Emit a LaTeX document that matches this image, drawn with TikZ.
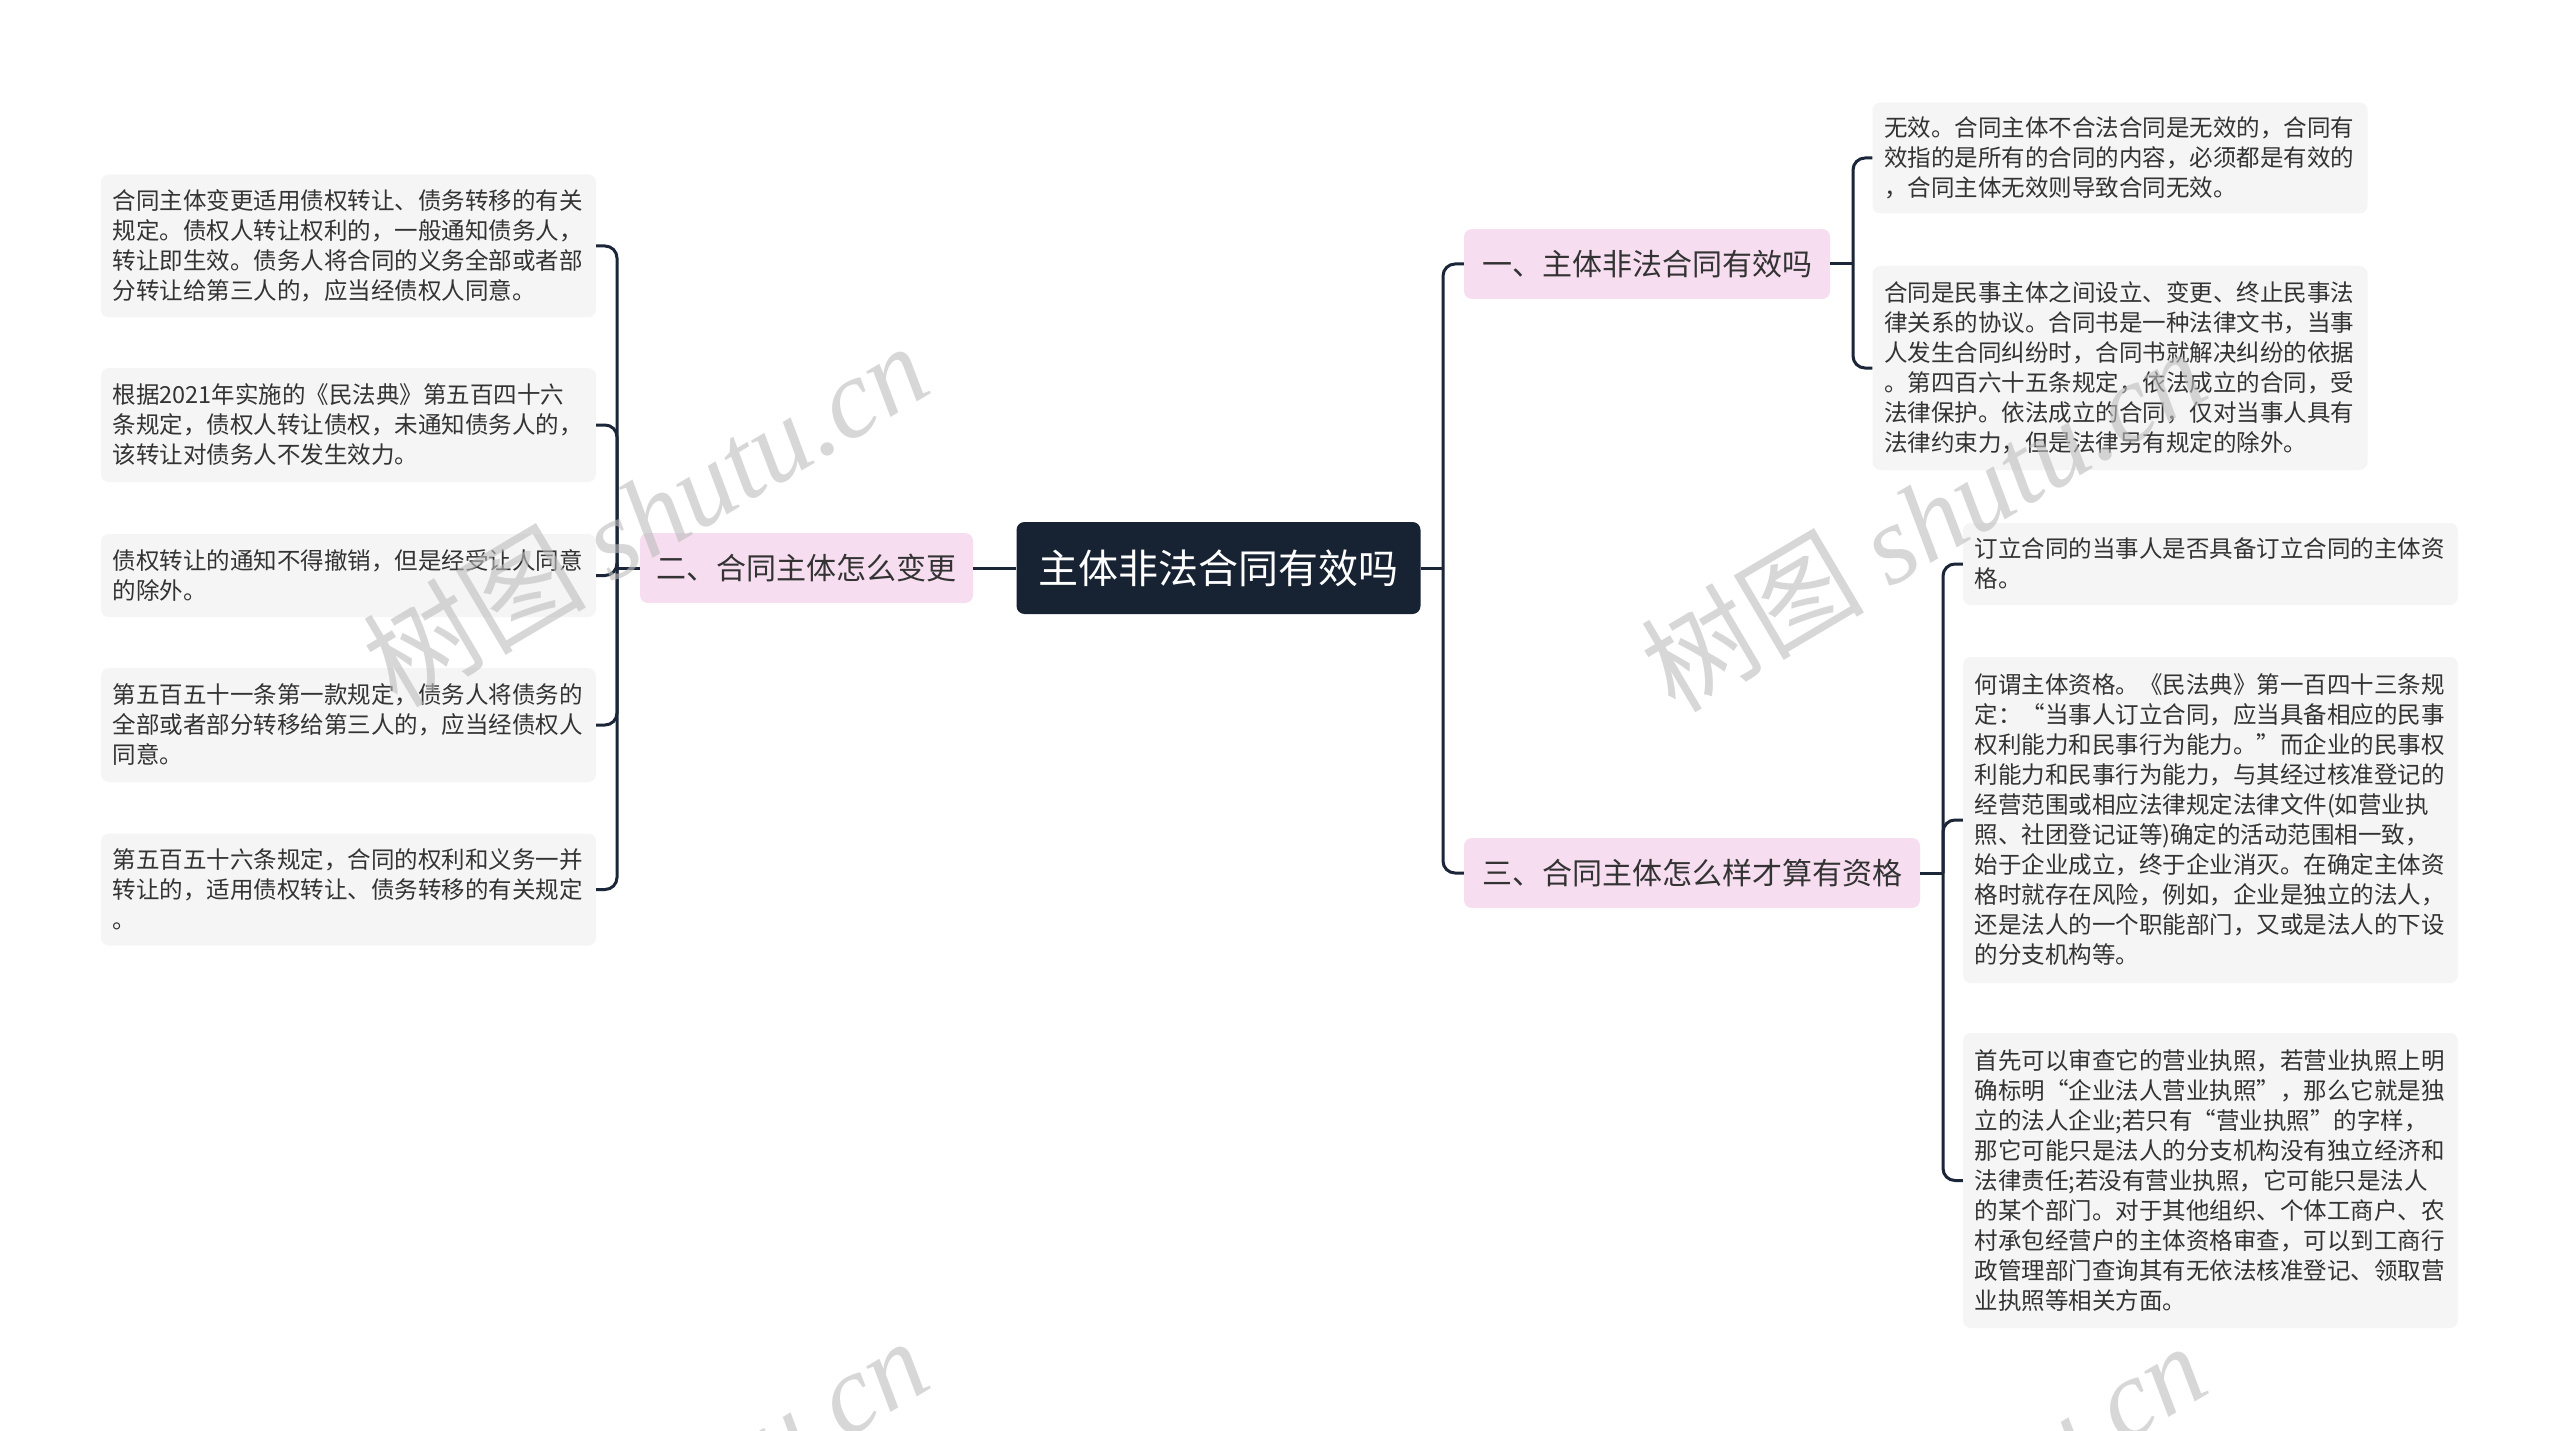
\documentclass[tikz,border=0pt]{standalone}
\usepackage{fontspec}
\setmainfont{Noto Sans CJK SC}
\newfontfamily\wmserif{Liberation Serif}
\definecolor{rootc}{HTML}{172233}
\definecolor{linec}{HTML}{1B2638}
\definecolor{pinkc}{HTML}{F6DEF0}
\definecolor{leafc}{HTML}{F5F5F5}
\definecolor{txtc}{HTML}{333333}
\definecolor{wmc}{HTML}{BDBDBD}
\begin{document}
\begin{tikzpicture}[x=1pt,y=-1pt,
  conn/.style={draw=linec, line width=3pt, rounded corners=12pt},
  rootbox/.style={fill=rootc, rounded corners=8pt, text=white, font=\fontsize{40}{48}\selectfont, minimum width=404pt, minimum height=92pt, inner sep=0pt},
  branchbox/.style={fill=pinkc, rounded corners=8pt, text=txtc, font=\fontsize{30}{36}\selectfont, minimum height=70pt, inner sep=0pt},
  leafbox/.style={fill=leafc, rounded corners=8pt, text=txtc, font=\fontsize{23.5}{30}\selectfont, align=left, text width=472pt, inner xsep=11.5pt, inner ysep=0pt},
  wm/.style={text=wmc, opacity=0.6, rotate=30.6, font=\fontsize{112}{120}\selectfont, inner sep=0pt}]
\useasboundingbox (0,0) rectangle (2560,1431);
\clip (0,0) rectangle (2560,1431);
\fill[white] (0,0) rectangle (2560,1431);

% root and branches
\node[rootbox] (root) at (1218.5,568) {主体非法合同有效吗};
\node[branchbox, minimum width=333pt] (b2) at (806.5,568) {二、合同主体怎么变更};
\node[branchbox, minimum width=366pt] (b1) at (1647,264) {一、主体非法合同有效吗};
\node[branchbox, minimum width=456pt] (b3) at (1692,873) {三、合同主体怎么样才算有资格};

% left leaves
\node[leafbox, minimum height=143pt] (L1) at (348.5,246) {合同主体变更适用债权转让、债务转移的有关\\规定。债权人转让权利的，一般通知债务人，\\转让即生效。债务人将合同的义务全部或者部\\分转让给第三人的，应当经债权人同意。};
\node[leafbox, minimum height=114pt] (L2) at (348.5,425) {根据2021年实施的《民法典》第五百四十六\\条规定，债权人转让债权，未通知债务人的，\\该转让对债务人不发生效力。};
\node[leafbox, minimum height=83pt] (L3) at (348.5,575.5) {债权转让的通知不得撤销，但是经受让人同意\\的除外。};
\node[leafbox, minimum height=114pt] (L4) at (348.5,725) {第五百五十一条第一款规定，债务人将债务的\\全部或者部分转移给第三人的，应当经债权人\\同意。};
\node[leafbox, minimum height=112pt] (L5) at (348.5,889.5) {第五百五十六条规定，合同的权利和义务一并\\转让的，适用债权转让、债务转移的有关规定\\。};

% right leaves of branch 1
\node[leafbox, minimum height=111pt] (Ra) at (2120,158) {无效。合同主体不合法合同是无效的，合同有\\效指的是所有的合同的内容，必须都是有效的\\，合同主体无效则导致合同无效。};
\node[leafbox, minimum height=204pt] (Rb) at (2120,368) {合同是民事主体之间设立、变更、终止民事法\\律关系的协议。合同书是一种法律文书，当事\\人发生合同纠纷时，合同书就解决纠纷的依据\\。第四百六十五条规定，依法成立的合同，受\\法律保护。依法成立的合同，仅对当事人具有\\法律约束力，但是法律另有规定的除外。};

% right leaves of branch 3
\node[leafbox, minimum height=82pt] (Rc) at (2210.5,564) {订立合同的当事人是否具备订立合同的主体资\\格。};
\node[leafbox, minimum height=326pt] (Rd) at (2210.5,820) {何谓主体资格。《民法典》第一百四十三条规\\定：“当事人订立合同，应当具备相应的民事\\权利能力和民事行为能力。”而企业的民事权\\利能力和民事行为能力，与其经过核准登记的\\经营范围或相应法律规定法律文件(如营业执\\照、社团登记证等)确定的活动范围相一致，\\始于企业成立，终于企业消灭。在确定主体资\\格时就存在风险，例如，企业是独立的法人，\\还是法人的一个职能部门，又或是法人的下设\\的分支机构等。};
\node[leafbox, minimum height=295pt] (Re) at (2210.5,1180.5) {首先可以审查它的营业执照，若营业执照上明\\确标明“企业法人营业执照”，那么它就是独\\立的法人企业;若只有“营业执照”的字样，\\那它可能只是法人的分支机构没有独立经济和\\法律责任;若没有营业执照，它可能只是法人\\的某个部门。对于其他组织、个体工商户、农\\村承包经营户的主体资格审查，可以到工商行\\政管理部门查询其有无依法核准登记、领取营\\业执照等相关方面。};

% trunk coordinates
\coordinate (lt) at (617,568);
\coordinate (rt) at (1443,568);
\coordinate (r1t) at (1853,264);
\coordinate (r3t) at (1943,873);

% connectors
\draw[conn] (root.west) -- (b2.east);
\draw[conn] (b2.west) -- (lt);
\foreach \n in {L1,L2,L3,L4,L5} \draw[conn] (lt) |- (\n.east);
\draw[conn] (root.east) -- (rt);
\draw[conn] (rt) |- (b1.west);
\draw[conn] (rt) |- (b3.west);
\draw[conn] (b1.east) -- (r1t);
\draw[conn] (r1t) |- (Ra.west);
\draw[conn] (r1t) |- (Rb.west);
\draw[conn] (b3.east) -- (r3t);
\draw[conn] (r3t) |- (Rc.west);
\draw[conn] (r3t) |- (Rd.west);
\draw[conn] (r3t) |- (Re.west);

% watermarks
\node[wm] (wm1) at (645,514) {树图 {\wmserif\itshape shutu.cn}};
\node[wm] (wm2) at (1923,519) {树图 {\wmserif\itshape shutu.cn}};
\node[wm] (wm3) at (645,1509) {树图 {\wmserif\itshape shutu.cn}};
\node[wm] (wm4) at (1923,1514) {树图 {\wmserif\itshape shutu.cn}};
\end{tikzpicture}
\end{document}
